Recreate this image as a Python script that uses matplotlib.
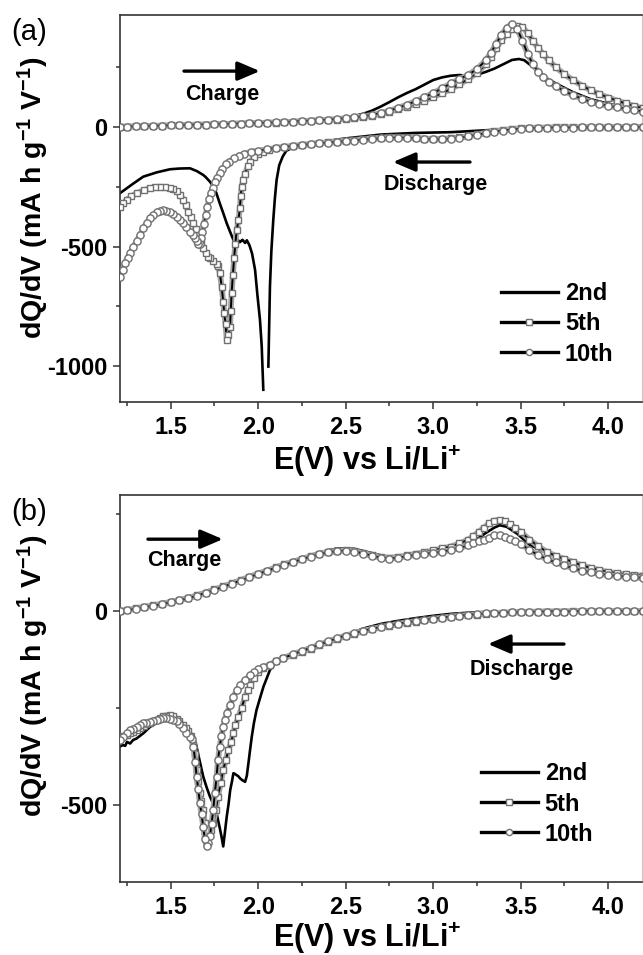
import numpy as np
import matplotlib
matplotlib.use("Agg")
import matplotlib.pyplot as plt
from matplotlib.ticker import MultipleLocator, FormatStrFormatter

plt.rcParams['font.family'] = ['Liberation Sans', 'DejaVu Sans']
plt.rcParams['font.weight'] = 'bold'
plt.rcParams['axes.unicode_minus'] = False
plt.rcParams['mathtext.fontset'] = 'custom'
plt.rcParams['mathtext.rm'] = 'Liberation Sans:bold'
plt.rcParams['mathtext.bf'] = 'Liberation Sans:bold'
plt.rcParams['mathtext.default'] = 'bf'

# ---------------- panel (a) ----------------
# charge branch, 5th / 10th share the voltage list
a_chg_v = [1.21, 1.25, 1.3, 1.35, 1.4, 1.45, 1.5, 1.55, 1.6, 1.65, 1.7, 1.75, 1.8, 1.85, 1.9,
           1.95, 2.0, 2.05, 2.1, 2.15, 2.2, 2.25, 2.3, 2.35, 2.4, 2.45, 2.5, 2.55, 2.6, 2.65,
           2.7, 2.75, 2.8, 2.85, 2.9, 2.95, 3.0, 3.05, 3.1, 3.15, 3.2, 3.25, 3.3, 3.33, 3.36,
           3.39, 3.42, 3.45, 3.48, 3.51, 3.54, 3.57, 3.6, 3.63, 3.66, 3.7, 3.75, 3.8, 3.85,
           3.9, 3.95, 4.0, 4.05, 4.1, 4.15, 4.2]
a_chg_5th = [0, 1, 2, 3, 4, 5, 6, 7, 8, 9, 10, 11, 12, 13, 14,
             15, 16, 17, 18, 20, 21, 23, 25, 27, 29, 31, 34, 37, 41, 47,
             55, 64, 74, 85, 97, 110, 125, 141, 158, 178, 200, 226, 262, 292, 330,
             362, 388, 410, 423, 418, 392, 358, 330, 303, 278, 250, 220, 195, 173,
             153, 137, 123, 110, 98, 87, 78]
a_chg_10th = [0, 1, 2, 3, 4, 5, 6, 7, 8, 9, 10, 11, 12, 13, 14,
              15, 16, 17, 19, 20, 22, 24, 26, 28, 30, 33, 36, 40, 44, 50,
              58, 68, 80, 93, 108, 124, 142, 161, 182, 200, 218, 242, 278, 310, 348,
              385, 415, 432, 410, 360, 305, 262, 230, 208, 188, 170, 150, 132, 118,
              105, 95, 88, 82, 76, 70, 64]
a_chg2_v = [1.21, 1.5, 1.8, 2.1, 2.4, 2.5, 2.55, 2.6, 2.65, 2.7, 2.75, 2.8, 2.85, 2.9, 2.95,
            3.0, 3.05, 3.1, 3.15, 3.2, 3.25, 3.3, 3.35, 3.4, 3.45, 3.49, 3.52, 3.56, 3.6,
            3.65, 3.7, 3.8, 3.9, 4.0, 4.1, 4.2]
a_chg_2nd = [1, 6, 12, 20, 32, 40, 46, 55, 68, 85, 104, 124, 142, 158, 177,
             196, 207, 214, 217, 213, 218, 230, 244, 262, 280, 284, 279, 256, 232,
             203, 182, 145, 116, 97, 82, 71]

# discharge branch
a_dis5_v = [4.2, 4.15, 4.1, 4.05, 4.0, 3.95, 3.9, 3.85, 3.8, 3.75, 3.7, 3.65, 3.6, 3.55, 3.5,
            3.45, 3.4, 3.35, 3.3, 3.25, 3.2, 3.15, 3.1, 3.05, 3.0, 2.95, 2.9, 2.85, 2.8, 2.75,
            2.7, 2.65, 2.6, 2.55, 2.5, 2.45, 2.4, 2.35, 2.3, 2.25, 2.2, 2.15, 2.1,
            2.06, 2.03, 2.0, 1.975, 1.955, 1.94, 1.925, 1.915, 1.905, 1.9,
            1.895, 1.887, 1.877, 1.869, 1.862, 1.855, 1.848, 1.843, 1.839, 1.83,
            1.82, 1.813, 1.806, 1.8, 1.791, 1.781, 1.77, 1.762, 1.74, 1.725,
            1.715, 1.7, 1.686, 1.672, 1.657, 1.643, 1.629, 1.615, 1.6, 1.586,
            1.572, 1.555, 1.535, 1.515, 1.496, 1.47, 1.44, 1.41, 1.382, 1.345,
            1.305, 1.275, 1.248, 1.23, 1.21]
a_dis_5th = [0, 0, 0, -1, -1, -1, -1, -2, -2, -2, -2, -3, -3, -4, -6,
             -9, -13, -18, -25, -31, -38, -44, -48, -50, -50, -49, -46, -44, -43, -43,
             -45, -48, -51, -55, -58, -61, -64, -68, -71, -76, -80, -84, -90,
             -97, -104, -113, -125, -145, -165, -195, -220, -250, -290,
             -340, -390, -431, -490, -549, -620, -696, -770, -835, -870,
             -890, -822, -780, -730, -668, -612, -580, -573, -560, -550,
             -542, -527, -507, -480, -451, -427, -403, -378, -354, -328,
             -305, -285, -270, -261, -256, -252, -250, -252, -256, -265,
             -277, -290, -305, -318, -333]
a_dis10_v = [4.2, 4.15, 4.1, 4.05, 4.0, 3.95, 3.9, 3.85, 3.8, 3.75, 3.7, 3.65, 3.6, 3.55, 3.5,
             3.45, 3.4, 3.35, 3.3, 3.25, 3.2, 3.15, 3.1, 3.05, 3.0, 2.95, 2.9, 2.85, 2.8, 2.75,
             2.7, 2.65, 2.6, 2.55, 2.5, 2.45, 2.4, 2.35, 2.3, 2.25, 2.2, 2.15, 2.1,
             2.05, 2.0, 1.96, 1.92, 1.89, 1.86, 1.835, 1.815, 1.795, 1.78,
             1.765, 1.753, 1.74, 1.73, 1.72, 1.71, 1.7, 1.69, 1.68, 1.672,
             1.665, 1.657, 1.648, 1.638, 1.625, 1.61, 1.59, 1.572, 1.555, 1.535,
             1.515, 1.496, 1.475, 1.457, 1.44, 1.42, 1.40, 1.382, 1.362, 1.343,
             1.325, 1.305, 1.285, 1.268, 1.253, 1.239, 1.225, 1.21]
a_dis_10th = [-1, -1, -1, -1, -2, -2, -2, -2, -3, -3, -3, -4, -5, -6, -8,
              -11, -15, -20, -27, -33, -40, -46, -50, -52, -52, -50, -48, -46, -45, -46,
              -48, -51, -54, -57, -60, -63, -66, -69, -72, -76, -80, -84, -88,
              -94, -99, -104, -112, -120, -132, -145, -157, -175, -194,
              -212, -229, -255, -275, -300, -333, -368, -405, -438, -465,
              -488, -488, -476, -465, -452, -438, -420, -403, -388, -375,
              -364, -355, -350, -348, -350, -355, -368, -382, -402, -424,
              -450, -479, -503, -528, -548, -570, -598, -626]
a_dis2_v = [4.2, 3.9, 3.7, 3.5, 3.3, 3.1, 2.9, 2.7, 2.5, 2.4,
            2.3, 2.19, 2.16, 2.14, 2.12, 2.105, 2.095, 2.086, 2.075, 2.067,
            2.058, np.nan, 2.029, 2.02, 2.01, 1.995, 1.982, 1.965, 1.95, 1.935,
            1.925, 1.91, 1.895, 1.88, 1.87, 1.858, 1.84, 1.82, 1.80, 1.78,
            1.76, 1.74, 1.724, 1.70, 1.686, 1.65, 1.61, 1.55, 1.496, 1.42,
            1.343, 1.28, 1.21]
a_dis_2nd = [0, -1, -2, -5, -14, -22, -25, -32, -48, -58,
             -72, -89, -100, -124, -160, -222, -300, -389, -520, -668,
             -1002, np.nan, -1099, -918, -807, -700, -598, -530, -495, -474,
             -485, -472, -482, -470, -485, -472, -440, -403, -360, -319,
             -275, -245, -229, -210, -201, -185, -173, -174, -177, -190,
             -208, -240, -277]

# ---------------- panel (b) ----------------
b_chg_v = [1.21, 1.25, 1.3, 1.35, 1.4, 1.45, 1.5, 1.55, 1.6, 1.65, 1.7, 1.75, 1.8, 1.85, 1.9,
           1.95, 2.0, 2.05, 2.1, 2.15, 2.2, 2.25, 2.3, 2.35, 2.4, 2.45, 2.5, 2.55, 2.6, 2.65,
           2.7, 2.75, 2.8, 2.85, 2.9, 2.95, 3.0, 3.05, 3.1, 3.15, 3.2, 3.23, 3.26, 3.29, 3.32,
           3.35, 3.38, 3.41, 3.44, 3.47, 3.5, 3.55, 3.6, 3.65, 3.7, 3.75, 3.8, 3.85, 3.9,
           3.95, 4.0, 4.05, 4.1, 4.15, 4.2]
b_chg_5th = [0, 3, 7, 11, 15, 19, 24, 29, 34, 41, 48, 56, 64, 72, 80,
             89, 97, 105, 113, 121, 128, 135, 142, 148, 153, 156, 157, 155, 150, 145,
             140, 138, 140, 144, 148, 152, 157, 162, 167, 175, 185, 194, 205, 216, 227,
             234, 236, 232, 224, 215, 205, 185, 168, 153, 143, 135, 127, 118, 112,
             106, 101, 98, 95, 93, 92]
b_chg_10th = [0, 2, 6, 10, 14, 18, 23, 28, 33, 40, 47, 55, 63, 71, 79,
              88, 96, 104, 112, 120, 127, 134, 141, 147, 152, 155, 156, 154, 149, 143,
              138, 136, 138, 142, 145, 148, 150, 153, 158, 163, 170, 175, 181, 185, 190,
              196, 197, 192, 187, 181, 174, 158, 145, 134, 126, 118, 111, 105, 100,
              96, 93, 91, 89, 87, 86]
b_chg2_v = [1.21, 1.4, 1.6, 1.8, 2.0, 2.2, 2.35, 2.45, 2.55, 2.65, 2.75, 2.85, 3.0, 3.1,
            3.2, 3.25, 3.3, 3.35, 3.38, 3.42, 3.48, 3.55, 3.65, 3.75, 3.85, 3.95, 4.05,
            4.15, 4.2]
b_chg_2nd = [0, 14, 34, 63, 96, 128, 152, 162, 161, 150, 139, 141, 152, 161,
             173, 186, 202, 216, 222, 218, 200, 172, 150, 130, 115, 103, 93,
             85, 82]

b_dis5_v = [4.2, 4.15, 4.1, 4.05, 4.0, 3.95, 3.9, 3.85, 3.8, 3.75, 3.7, 3.65, 3.6, 3.55, 3.5,
            3.45, 3.4, 3.35, 3.3, 3.25, 3.2, 3.15, 3.1, 3.05, 3.0, 2.95, 2.9, 2.85, 2.8, 2.75,
            2.7, 2.65, 2.6, 2.55, 2.5, 2.45, 2.4, 2.35, 2.3, 2.25, 2.2,
            2.14, 2.1, 2.067, 2.03, 2.0, 1.975, 1.953, 1.94, 1.925, 1.905,
            1.887, 1.87, 1.858, 1.845, 1.83, 1.815, 1.8, 1.785, 1.77, 1.757,
            1.743, 1.73, 1.715, 1.705, 1.695, 1.685, 1.675, 1.667, 1.658, 1.65,
            1.64, 1.63, 1.615, 1.6, 1.585, 1.57, 1.55, 1.535, 1.515, 1.496,
            1.475, 1.457, 1.44, 1.42, 1.40, 1.382, 1.36, 1.345, 1.325, 1.305,
            1.285, 1.268, 1.25, 1.23, 1.21]
b_dis_5th = [0, 0, 0, 0, 0, 0, 0, 0, 0, -1, -1, -1, -1, -2, -2,
             -3, -4, -5, -7, -9, -11, -13, -16, -18, -21, -24, -27, -30, -34, -38,
             -42, -47, -52, -58, -65, -72, -80, -88, -97, -105, -113,
             -122, -130, -140, -148, -157, -172, -191, -205, -221, -250,
             -273, -295, -316, -338, -359, -385, -410, -445, -479, -515,
             -548, -565, -574, -565, -548, -515, -490, -471, -440, -410,
             -370, -345, -322, -310, -302, -295, -285, -278, -272, -269,
             -270, -272, -276, -280, -284, -288, -292, -296, -302, -307,
             -312, -316, -320, -322, -324]
b_dis10_v = [4.2, 4.15, 4.1, 4.05, 4.0, 3.95, 3.9, 3.85, 3.8, 3.75, 3.7, 3.65, 3.6, 3.55, 3.5,
             3.45, 3.4, 3.35, 3.3, 3.25, 3.2, 3.15, 3.1, 3.05, 3.0, 2.95, 2.9, 2.85, 2.8, 2.75,
             2.7, 2.65, 2.6, 2.55, 2.5, 2.45, 2.4, 2.35, 2.3, 2.25, 2.2,
             2.14, 2.1, 2.067, 2.03, 2.0, 1.975, 1.953, 1.925, 1.896, 1.877,
             1.858, 1.84, 1.82, 1.81, 1.8, 1.79, 1.78, 1.77, 1.762, 1.752,
             1.743, 1.733, 1.724, 1.715, 1.705, 1.695, 1.686, 1.676, 1.667, 1.657,
             1.648, 1.64, 1.63, 1.62, 1.61, 1.59, 1.572, 1.55, 1.535, 1.515,
             1.496, 1.475, 1.457, 1.44, 1.42, 1.4, 1.382, 1.36, 1.343, 1.325,
             1.305, 1.285, 1.268, 1.25, 1.23, 1.21]
b_dis_10th = [0, 0, 0, 0, 0, 0, 0, 0, -1, -1, -1, -1, -2, -2, -3,
              -3, -4, -5, -6, -8, -10, -12, -14, -17, -20, -23, -26, -29, -33, -37,
              -41, -46, -51, -57, -63, -70, -78, -86, -95, -103, -111,
              -122, -130, -138, -144, -150, -157, -166, -178, -191, -205,
              -221, -242, -264, -280, -299, -322, -350, -385, -428, -470,
              -514, -550, -582, -600, -608, -590, -557, -525, -497, -460,
              -428, -390, -350, -330, -325, -315, -303, -292, -285, -281,
              -279, -277, -277, -278, -280, -283, -286, -288, -290, -295,
              -300, -304, -307, -315, -324, -333]
b_dis2_v = [4.2, 3.6, 3.4, 3.3, 3.2, 3.1, 3.0, 2.9, 2.8, 2.7,
            2.6, 2.5, 2.4, 2.334, 2.28, 2.22, 2.16, 2.105, 2.067, 2.03,
            2.01, 1.99, 1.975, 1.963, 1.953, 1.944, 1.935, 1.925, 1.91, 1.896,
            1.885, 1.877, 1.865, 1.858, 1.85, 1.84, 1.83, 1.82, 1.81, 1.8,
            1.79, 1.78, 1.762, 1.745, 1.724, 1.705, 1.686, 1.672, 1.66, 1.645,
            1.63, 1.61, 1.59, 1.56, 1.535, 1.515, 1.496, 1.475, 1.457, 1.42,
            1.382, 1.345, 1.305, 1.285, 1.268, 1.25, 1.24, 1.225, 1.21]
b_dis_2nd = [0, 0, -1, -2, -4, -7, -12, -18, -25, -33,
             -45, -62, -75, -88, -95, -105, -118, -131, -152, -195,
             -225, -256, -290, -325, -360, -393, -425, -441, -437, -432,
             -426, -424, -420, -419, -440, -462, -500, -531, -570, -608,
             -582, -560, -522, -500, -479, -455, -428, -400, -376, -345,
             -325, -312, -303, -293, -286, -278, -273, -275, -277, -288,
             -299, -315, -329, -333, -342, -338, -348, -346, -350]

labels = ['2nd', '5th', '10th']

fig = plt.figure(figsize=(6.43, 9.55), dpi=100)
ax_a = fig.add_axes([0.1866, 0.5791, 0.8118, 0.4052])
ax_b = fig.add_axes([0.1866, 0.0764, 0.8118, 0.4052])

sq = dict(color='k', lw=1.4, marker='s', ms=4.9, mfc='white', mec='#707070', mew=1.0)
ci = dict(color='k', lw=1.4, marker='o', ms=5.2, mfc='white', mec='#707070', mew=1.0)
band = dict(color='#a6a6a6', lw=4.2, solid_capstyle='round', solid_joinstyle='round')


def draw(ax, c2v, c2, d2v, d2, cv, c5, c10, d5v, d5, d10v, d10):
    h2, = ax.plot(c2v, c2, color='k', lw=1.9, zorder=2)
    ax.plot(d2v, d2, color='k', lw=1.9, zorder=2)
    # dense symbols in the original read as a grey band under the markers
    for xs, ys, z in [(cv, c5, 2.6), (d5v, d5, 2.6), (cv, c10, 3.6), (d10v, d10, 3.6)]:
        ax.plot(xs, ys, zorder=z, **band)
    h5, = ax.plot(cv, c5, zorder=3, **sq)
    ax.plot(d5v, d5, zorder=3, **sq)
    h10, = ax.plot(cv, c10, zorder=4, **ci)
    ax.plot(d10v, d10, zorder=4, **ci)
    return [h2, h5, h10]


def style(ax, ylim):
    ax.set_xlim(1.21, 4.193)
    ax.set_ylim(*ylim)
    ax.xaxis.set_major_locator(MultipleLocator(0.5))
    ax.xaxis.set_minor_locator(MultipleLocator(0.25))
    ax.yaxis.set_major_locator(MultipleLocator(500))
    ax.yaxis.set_minor_locator(MultipleLocator(250))
    ax.xaxis.set_major_formatter(FormatStrFormatter('%.1f'))
    ax.yaxis.set_major_formatter(FormatStrFormatter('%d'))
    ax.tick_params(which='both', direction='out', top=False, right=False,
                   width=1.1, color='#333333', labelsize=17)
    ax.tick_params(which='major', length=5)
    ax.tick_params(which='minor', length=2.8)
    ax.tick_params(axis='x', which='major', pad=5)
    ax.tick_params(axis='y', which='major', pad=4)
    for s in ['left', 'bottom', 'top']:
        ax.spines[s].set_linewidth(1.2)
        ax.spines[s].set_color('#333333')
    ax.spines['right'].set_color('#c8c8c8')
    ax.spines['right'].set_linewidth(0.8)


leg = dict(loc='center left', frameon=False, fontsize=17, handlelength=2.4,
           handletextpad=0.3, labelspacing=0.3, borderpad=0, borderaxespad=0,
           markerscale=0.85)

hs = draw(ax_a, a_chg2_v, a_chg_2nd, a_dis2_v, a_dis_2nd, a_chg_v, a_chg_5th, a_chg_10th,
          a_dis5_v, a_dis_5th, a_dis10_v, a_dis_10th)
style(ax_a, (-1150, 468))
la = ax_a.legend(hs, labels, bbox_to_anchor=(0.730, 0.2015), **leg)

hs = draw(ax_b, b_chg2_v, b_chg_2nd, b_dis2_v, b_dis_2nd, b_chg_v, b_chg_5th, b_chg_10th,
          b_dis5_v, b_dis_5th, b_dis10_v, b_dis_10th)
style(ax_b, (-700, 300))
lb = ax_b.legend(hs, labels, bbox_to_anchor=(0.6916, 0.2015), **leg)
for lg in (la, lb):
    for ln in lg.get_lines():
        ln.set_linewidth(2.4)

arrow = dict(arrowstyle='-|>,head_length=0.75,head_width=0.32', lw=2.4, color='k',
             shrinkA=0, shrinkB=0, mutation_scale=18)

# direction arrows and notes
ax_a.annotate('', xy=(0.268, 0.855), xytext=(0.1226, 0.855), xycoords='axes fraction',
              arrowprops=arrow)
ax_a.text(0.125, 0.780, 'Charge', transform=ax_a.transAxes, fontsize=15.5, va='baseline')
ax_a.annotate('', xy=(0.523, 0.620), xytext=(0.6705, 0.620), xycoords='axes fraction',
              arrowprops=arrow)
ax_a.text(0.605, 0.548, 'Discharge', transform=ax_a.transAxes, fontsize=15.5,
          ha='center', va='baseline')

ax_b.annotate('', xy=(0.197, 0.886), xytext=(0.0536, 0.886), xycoords='axes fraction',
              arrowprops=arrow)
ax_b.text(0.0515, 0.8165, 'Charge', transform=ax_b.transAxes, fontsize=15.5, va='baseline')
ax_b.annotate('', xy=(0.705, 0.615), xytext=(0.8506, 0.615), xycoords='axes fraction',
              arrowprops=arrow)
ax_b.text(0.770, 0.535, 'Discharge', transform=ax_b.transAxes, fontsize=15.5,
          ha='center', va='baseline')

ylab = 'dQ/dV (mA h g$^{-1}$ V$^{-1}$)'
xlab = 'E(V) vs Li/Li$^{+}$'
fig.text(0.052, 0.793, ylab, rotation=90, ha='center', va='center', fontsize=20.5)
fig.text(0.052, 0.292, ylab, rotation=90, ha='center', va='center', fontsize=20.5)
fig.text(0.571, 0.5075, xlab, ha='center', va='baseline', fontsize=22)
fig.text(0.571, 0.0085, xlab, ha='center', va='baseline', fontsize=22)

fig.text(0.018, 0.981, '(a)', fontsize=21, fontweight='normal', va='top')
fig.text(0.018, 0.479, '(b)', fontsize=21, fontweight='normal', va='top')

fig.savefig('out.png', dpi=100)
